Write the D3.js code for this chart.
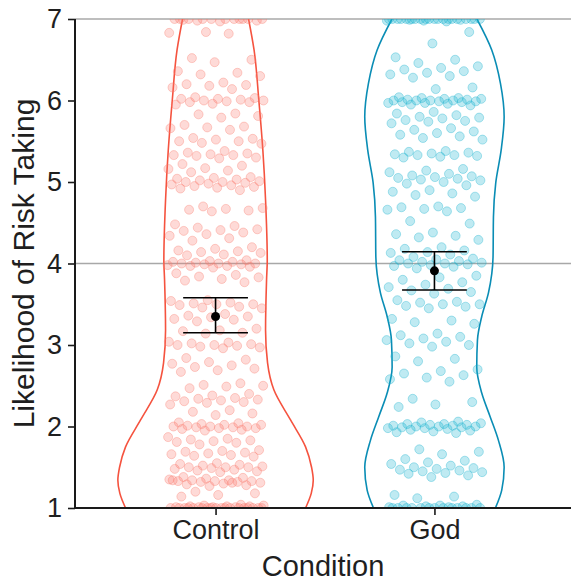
<!DOCTYPE html>
<html>
<head>
<meta charset="utf-8">
<script src="https://cdn.jsdelivr.net/npm/d3@7"></script>
<style>
	html, body { margin: 0; padding: 0; background: #fff; }
	svg { display: block; font-family: "Liberation Sans", Arial, sans-serif; }
</style>
</head>
<body>
<svg id="chart" width="571" height="583"></svg>
<script>
// categories and colours
const conditions = ["Control", "God"];
const yTicks = [1, 2, 3, 4, 5, 6, 7];
const refLines = [4, 7];

// individual responses
const controlValues = [
	7, 7, 7, 7, 7, 7, 7, 7, 7, 7, 6.98, 6.98, 6.97, 6.99, 7,
	6.84, 6.83, 6.82,
	6.52, 6.5, 6.47,
	6.36, 6.34, 6.32, 6.3,
	6.22, 6.2, 6.19, 6.18, 6.16, 6.14,
	6.04, 6.03, 6.02, 6.02, 6.01, 6.0, 6.0, 5.99, 5.98, 5.98, 5.96, 5.95,
	5.84, 5.83, 5.81, 5.79,
	5.7, 5.68, 5.67, 5.66, 5.64,
	5.54, 5.53, 5.52, 5.5, 5.5, 5.48, 5.47,
	5.38, 5.36, 5.35, 5.34, 5.33, 5.33, 5.32, 5.3, 5.29,
	5.22, 5.2, 5.17, 5.16, 5.14, 5.12,
	5.06, 5.05, 5.04, 5.03, 5.02, 5.01, 5.0, 5.0, 4.99, 4.98, 4.97, 4.96, 4.95, 4.94, 4.93, 4.92, 4.9,
	4.7, 4.68, 4.67, 4.66, 4.65, 4.64,
	4.48, 4.46, 4.44, 4.42, 4.41, 4.4, 4.38, 4.36, 4.34, 4.31, 4.28,
	4.2, 4.18, 4.16, 4.15, 4.14, 4.13, 4.11, 4.1,
	4.04, 4.03, 4.02, 4.02, 4.01, 4.0, 4.0, 4.0, 3.99, 3.99, 3.98, 3.97, 3.97, 3.96, 3.95,
	3.88, 3.86, 3.84, 3.83, 3.81, 3.79, 3.77,
	3.55, 3.54, 3.52, 3.51, 3.5, 3.5, 3.49, 3.47, 3.46, 3.45,
	3.38, 3.36, 3.35, 3.34, 3.32, 3.31, 3.29,
	3.2, 3.18, 3.17, 3.15, 3.14,
	3.04, 3.03, 3.02, 3.01, 3.0, 3.0, 2.99, 2.98, 2.97, 2.96,
	2.84, 2.82, 2.79, 2.77, 2.75, 2.73, 2.71, 2.69, 2.67,
	2.53, 2.51, 2.5, 2.49, 2.47,
	2.4, 2.38, 2.37, 2.35, 2.34, 2.33, 2.32, 2.31, 2.3, 2.29, 2.27,
	2.2, 2.18, 2.16, 2.14,
	2.05, 2.04, 2.03, 2.02, 2.02, 2.01, 2.0, 2.0, 2.0, 1.99, 1.99, 1.98, 1.98, 1.97, 1.96, 1.95,
	1.87, 1.85, 1.84, 1.83, 1.82, 1.81, 1.8, 1.78,
	1.71, 1.7, 1.69, 1.68, 1.67, 1.66, 1.65, 1.64, 1.63,
	1.55, 1.54, 1.53, 1.52, 1.51, 1.5, 1.5, 1.5, 1.49, 1.48, 1.47, 1.46, 1.45, 1.44,
	1.38, 1.37, 1.36, 1.35, 1.34, 1.34, 1.33, 1.33, 1.33, 1.32, 1.32, 1.31, 1.3, 1.29, 1.28, 1.27, 1.34, 1.31,
	1.2, 1.18, 1.16, 1.14,
	1.04, 1.03, 1.03, 1.02, 1.02, 1.02, 1.01, 1.01, 1.01, 1.01, 1, 1, 1, 1, 1, 1, 1, 1, 1, 1, 1, 1, 1, 1, 1, 1, 1, 1
];
const godValues = [
	7, 7, 7, 7, 7, 7, 7, 7, 7, 7, 7, 7, 7, 7, 7, 7, 7, 7, 7, 7, 6.99, 6.98, 6.98, 6.97, 6.99,
	6.84, 6.7, 6.53,
	6.5, 6.46, 6.42, 6.4, 6.38, 6.36, 6.34, 6.32, 6.3, 6.28,
	6.16, 6.14,
	6.04, 6.03, 6.03, 6.02, 6.02, 6.01, 6.01, 6.0, 6.0, 6.0, 6.0, 5.99, 5.99, 5.98, 5.98, 5.97, 5.97, 5.96, 5.95, 5.94,
	5.86, 5.84, 5.82, 5.8, 5.79, 5.78, 5.76, 5.75, 5.74, 5.72,
	5.66, 5.64, 5.62, 5.6, 5.58, 5.56, 5.54, 5.52,
	5.38, 5.37, 5.36, 5.35, 5.34, 5.33, 5.33, 5.32, 5.31, 5.3,
	5.16, 5.14, 5.12, 5.1, 5.08, 5.07, 5.06, 5.05, 5.04, 5.03, 5.02, 5.0, 4.98, 4.96,
	4.9, 4.88, 4.86, 4.84, 4.82,
	4.7, 4.69, 4.68, 4.67, 4.66, 4.64,
	4.52, 4.49,
	4.38, 4.36, 4.34, 4.32, 4.29,
	4.2, 4.18, 4.16, 4.14, 4.13, 4.11,
	4.08, 4.06, 4.05, 4.04, 4.03, 4.02, 4.01, 4.0, 4.0, 3.99, 3.98, 3.97, 3.96, 3.94,
	3.85, 3.83, 3.8, 3.77, 3.74, 3.71, 3.69, 3.67, 3.65, 3.63,
	3.55, 3.53, 3.52, 3.5, 3.5, 3.48, 3.47, 3.45,
	3.32, 3.3, 3.28, 3.26,
	3.14, 3.12, 3.1, 3.08, 3.06, 3.04, 3.02, 3.0, 2.98,
	2.86, 2.83, 2.8,
	2.7, 2.68, 2.65, 2.63, 2.6, 2.58, 2.55,
	2.34, 2.3, 2.27, 2.24,
	2.06, 2.05, 2.04, 2.03, 2.03, 2.02, 2.02, 2.01, 2.01, 2.0, 2.0, 2.0, 1.99, 1.99, 1.98, 1.98, 1.97, 1.96, 1.95, 1.94, 1.93, 1.92,
	1.72, 1.69, 1.66,
	1.6, 1.58, 1.56, 1.54, 1.52, 1.5, 1.49, 1.48, 1.47, 1.46, 1.45, 1.44, 1.43, 1.42, 1.4, 1.38,
	1.16, 1.14, 1.12,
	1.04, 1.03, 1.03, 1.02, 1.02, 1.01, 1.01, 1, 1, 1, 1, 1, 1, 1, 1, 1, 1, 1, 1, 1
];

// violin outline: density (half width) at each response level
const controlViolinY = [7, 6.62, 6.0, 5.39, 4.78, 4.04, 3.8, 3.18, 2.78, 2.45, 2.08, 1.75, 1.5, 1.34, 1.18, 1.0];
const controlViolinD = [0.33, 0.385, 0.433, 0.473, 0.50, 0.517, 0.51, 0.50, 0.52, 0.583, 0.75, 0.90, 0.96, 0.977, 0.957, 0.90];
const godViolinY = [7, 6.62, 6.21, 5.8, 5.39, 4.99, 4.57, 4.08, 3.64, 3.35, 3.06, 2.73, 2.41, 2.12, 1.83, 1.5, 1.22, 1.01];
const godViolinD = [0.425, 0.573, 0.66, 0.697, 0.667, 0.613, 0.59, 0.586, 0.54, 0.473, 0.43, 0.423, 0.473, 0.557, 0.64, 0.697, 0.673, 0.613];

// mean and 95% CI
const means = [3.35, 3.91];
const ciLow = [3.15, 3.675];
const ciHigh = [3.58, 4.145];

const COL = {
	Control: { line: "#F5533F", pt: "#FA7A6E" },
	God: { line: "#0A8DB5", pt: "#1AB2CF" }
};

const svg = d3.select("#chart");
const W = 571, H = 583;
const m = { top: 19, right: 0, bottom: 75, left: 75 };

const x = d3.scalePoint().domain(conditions).range([77, 573]).padding(0.633);
const y = d3.scaleLinear().domain([1, 7]).range([H - m.bottom, m.top]);
const dens = d3.scaleLinear().domain([0, 1]).range([0, 100]);

svg.append("defs").append("clipPath").attr("id", "panel")
	.append("rect")
	.attr("x", m.left).attr("y", y(7))
	.attr("width", W - m.left).attr("height", y(1) - y(7));

// reference lines
svg.append("g").selectAll("line").data(refLines).join("line")
	.attr("x1", m.left).attr("x2", W)
	.attr("y1", d => y(d)).attr("y2", d => y(d))
	.attr("stroke", "#a8a8a8").attr("stroke-width", 1.6);

const panel = svg.append("g").attr("clip-path", "url(#panel)");

// violins (outline only, drawn as two sides so it stays open at the clip)
const violins = [
	{ cond: "Control", ys: controlViolinY, ds: controlViolinD },
	{ cond: "God", ys: godViolinY, ds: godViolinD }
];
violins.forEach(v => {
	const cx = x(v.cond);
	const pts = v.ys.map((yy, i) => ({ y: yy, d: v.ds[i] }));
	[-1, 1].forEach(side => {
		const line = d3.line()
			.x(d => cx + side * dens(d.d))
			.y(d => y(d.y))
			.curve(d3.curveMonotoneY);
		panel.append("path")
			.datum(pts)
			.attr("d", line)
			.attr("fill", "none")
			.attr("stroke", COL[v.cond].line)
			.attr("stroke-width", 1.6);
	});
});

// jittered points; horizontal jitter is a fixed golden-ratio spread
const jitterW = 0.22 * x.step();
function jitter(i, seed) {
	const f = (i * 0.6180339887 + seed) % 1;
	return (f - 0.5) * 2 * jitterW;
}
[["Control", controlValues, 0.13], ["God", godValues, 0.41]].forEach(([cond, vals, seed]) => {
	panel.append("g").selectAll("circle").data(vals).join("circle")
		.attr("cx", (d, i) => x(cond) + jitter(i, seed))
		.attr("cy", d => y(d))
		.attr("r", 4.5)
		.attr("fill", COL[cond].pt).attr("fill-opacity", 0.28)
		.attr("stroke", COL[cond].pt).attr("stroke-opacity", 0.35)
		.attr("stroke-width", 1);
});

// mean and error bars
const eb = svg.append("g");
conditions.forEach((c, i) => {
	const cx = x(c), hw = 0.148 * x.step();
	eb.append("line").attr("x1", cx).attr("x2", cx).attr("y1", y(ciLow[i])).attr("y2", y(ciHigh[i]))
		.attr("stroke", "#000").attr("stroke-width", 1.6);
	[ciLow[i], ciHigh[i]].forEach(v => {
		eb.append("line").attr("x1", cx - hw).attr("x2", cx + hw).attr("y1", y(v)).attr("y2", y(v))
			.attr("stroke", "#000").attr("stroke-width", 1.6);
	});
	eb.append("circle").attr("cx", cx).attr("cy", y(means[i])).attr("r", 4.5).attr("fill", "#000");
});

// axes
function styleAxis(g) {
	g.select(".domain").remove();
	g.selectAll(".tick line").attr("stroke", "#1a1a1a").attr("stroke-width", 1.6);
	g.selectAll(".tick text").attr("fill", "#1f1f1f").attr("font-size", "27px")
		.attr("font-family", "'Liberation Sans', Arial, sans-serif");
}

svg.append("g")
	.attr("transform", `translate(${m.left}, 0)`)
	.call(d3.axisLeft(y).tickValues(yTicks).tickSize(7).tickPadding(6).tickFormat(d3.format("d")))
	.call(styleAxis);

svg.append("g")
	.attr("transform", `translate(0, ${y(1)})`)
	.call(d3.axisBottom(x).tickSize(7).tickPadding(5))
	.call(styleAxis)
	.selectAll(".tick text").attr("dy", "0.71em");

svg.append("line")
	.attr("x1", m.left).attr("x2", m.left).attr("y1", y(7)).attr("y2", y(1) + 1)
	.attr("stroke", "#1a1a1a").attr("stroke-width", 2);
svg.append("line")
	.attr("x1", m.left - 1).attr("x2", W).attr("y1", y(1)).attr("y2", y(1))
	.attr("stroke", "#1a1a1a").attr("stroke-width", 2);

// titles
svg.append("text")
	.attr("x", (m.left + W) / 2).attr("y", 576)
	.attr("text-anchor", "middle").attr("font-size", "29px").attr("fill", "#1f1f1f")
	.text("Condition");
svg.append("text")
	.attr("transform", `translate(34, ${(y(1) + y(7)) / 2}) rotate(-90)`)
	.attr("text-anchor", "middle").attr("font-size", "30px").attr("fill", "#1f1f1f")
	.text("Likelihood of Risk Taking");
</script>
</body>
</html>
